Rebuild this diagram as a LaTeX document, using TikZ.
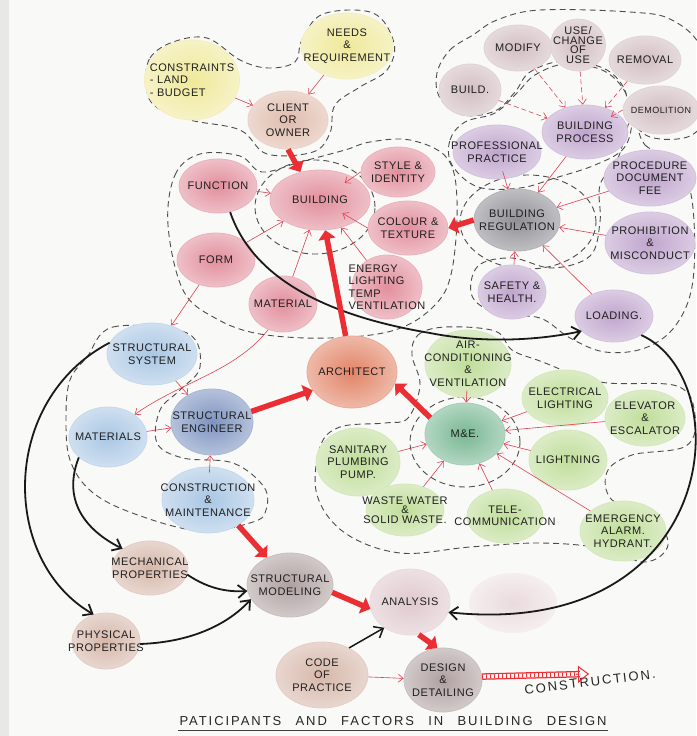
\documentclass[tikz,border=0pt]{standalone}
\usepackage{fontspec}
\setmainfont{Liberation Sans}[LetterSpace=5]
\newfontfamily\widefont{Liberation Sans}[LetterSpace=15]
\usetikzlibrary{arrows.meta,shapes.geometric,calc}
\pgfdeclarelayer{bg}
\pgfsetlayers{bg,main}
\definecolor{paper}{rgb}{0.975,0.975,0.968}
\definecolor{redc}{rgb}{0.88,0.25,0.32}
\definecolor{bigredc}{rgb}{0.92,0.18,0.20}
\definecolor{yellowc}{rgb}{0.93,0.90,0.55}
\definecolor{clientc}{rgb}{0.86,0.70,0.63}
\definecolor{pinkc}{rgb}{0.87,0.50,0.56}
\definecolor{procc}{rgb}{0.80,0.71,0.73}
\definecolor{purplec}{rgb}{0.72,0.60,0.78}
\definecolor{greyc}{rgb}{0.50,0.50,0.53}
\definecolor{greenc}{rgb}{0.72,0.85,0.55}
\definecolor{mnec}{rgb}{0.40,0.68,0.52}
\definecolor{orangec}{rgb}{0.87,0.45,0.32}
\definecolor{bluec}{rgb}{0.62,0.75,0.88}
\definecolor{dbluec}{rgb}{0.42,0.52,0.72}
\definecolor{tanc}{rgb}{0.82,0.68,0.62}
\definecolor{modc}{rgb}{0.65,0.58,0.58}
\definecolor{analc}{rgb}{0.86,0.76,0.78}
\newcommand{\lblfont}{\fontsize{11}{12.5}\selectfont}
\begin{document}
\begin{tikzpicture}[x=1pt,y=-1pt,
  ball/.style={ellipse, shade, inner color=#1!88!white, outer color=#1!50!white,
    draw=#1!60!white, line width=0.8pt, inner xsep=-30pt, inner ysep=-12pt,
    align=center, font=\lblfont, text=black!88},
  sz/.style 2 args={minimum width=#1pt, minimum height=#2pt},
  zone/.style={draw=black!70, line width=0.9pt, dash pattern=on 6pt off 4pt},
  rarrow/.style={draw=redc, line width=0.6pt, -{Straight Barb[length=5pt,width=8pt]}},
  rdash/.style={rarrow, dash pattern=on 5pt off 3pt},
  barrow/.style={draw=black!90, line width=1.8pt, -{Straight Barb[length=8pt,width=13pt]}},
  bigred/.style={draw=bigredc, line width=5.5pt, -{Triangle[length=9pt,width=17pt]}},
]
\useasboundingbox (0,0) rectangle (696,736);

% ---------- nodes ----------
\node[ball=yellowc, sz={95}{80}, align=left] (cons) at (192,80) {CONSTRAINTS\\- LAND\\- BUDGET};
\node[ball=yellowc, sz={92}{66}] (needs) at (347,46) {NEEDS\\\&\\REQUIREMENT};
\node[ball=clientc, sz={80}{58}] (client) at (288,120) {CLIENT\\OR\\OWNER};

\node[ball=pinkc, sz={100}{60}] (bldg) at (320,200) {BUILDING};
\node[ball=pinkc, sz={78}{54}] (func) at (218,186) {FUNCTION};
\node[ball=pinkc, sz={78}{54}] (form) at (216,260) {FORM};
\node[ball=pinkc, sz={68}{56}] (mat) at (283,304) {MATERIAL};
\node[ball=pinkc, sz={74}{50}] (style) at (398,172) {STYLE \&\\IDENTITY};
\node[ball=pinkc, sz={80}{54}] (colour) at (408,228) {COLOUR \&\\TEXTURE};
\node[ball=pinkc, sz={70}{64}, align=left] (energy) at (387,287) {ENERGY\\LIGHTING\\TEMP\\VENTILATION};

\node[ball=procc, sz={68}{46}] (modify) at (518,48) {MODIFY};
\node[ball=procc, sz={55}{52}] (use) at (578,45) {USE/\\[-3pt]CHANGE\\[-3pt]OF\\[-3pt]USE};
\node[ball=procc, sz={72}{48}] (removal) at (645,60) {REMOVAL};
\node[ball=procc, sz={62}{52}] (build) at (470,90) {BUILD.};
\node[ball=procc, sz={76}{48}, font=\fontsize{9}{11}\selectfont] (demol) at (661,110) {DEMOLITION};
\node[ball=purplec, sz={86}{54}] (bproc) at (585,132) {BUILDING\\PROCESS};
\node[ball=purplec, sz={88}{54}] (prof) at (497,152) {PROFESSIONAL\\PRACTICE};
\node[ball=purplec, sz={92}{56}] (proc) at (650,178) {PROCEDURE\\DOCUMENT\\FEE};
\node[ball=greyc, sz={86}{62}] (reg) at (517,220) {BUILDING\\REGULATION};
\node[ball=purplec, sz={90}{62}] (prohib) at (650,243) {PROHIBITION\\\&\\MISCONDUCT};
\node[ball=purplec, sz={68}{54}] (safety) at (512,292) {SAFETY \&\\HEALTH.};
\node[ball=purplec, sz={78}{52}] (loading) at (614,316) {LOADING.};

\node[ball=orangec, sz={90}{72}] (arch) at (352,372) {ARCHITECT};
\node[ball=greenc, sz={86}{68}] (aircon) at (468,364) {AIR-\\CONDITIONING\\\&\\VENTILATION};
\node[ball=greenc, sz={86}{56}] (elec) at (565,398) {ELECTRICAL\\LIGHTING};
\node[ball=greenc, sz={80}{56}] (elev) at (645,418) {ELEVATOR\\\&\\ESCALATOR};
\node[ball=mnec, sz={80}{62}] (mne) at (465,434) {M\&E.};
\node[ball=greenc, sz={78}{60}] (lightn) at (568,460) {LIGHTNING};
\node[ball=greenc, sz={84}{68}] (sanit) at (358,462) {SANITARY\\PLUMBING\\PUMP.};
\node[ball=greenc, sz={78}{52}] (waste) at (405,510) {WASTE WATER\\[-3pt]\&\\[-3pt]SOLID WASTE.};
\node[ball=greenc, sz={76}{54}] (telecom) at (505,516) {TELE-\\COMMUNICATION};
\node[ball=greenc, sz={86}{60}] (emerg) at (623,531) {EMERGENCY\\ALARM.\\HYDRANT.};

\node[ball=bluec, sz={90}{62}] (ss) at (152,354) {STRUCTURAL\\SYSTEM};
\node[ball=bluec, sz={78}{60}] (mat2) at (108,437) {MATERIALS};
\node[ball=dbluec, sz={82}{66}] (se) at (212,422) {STRUCTURAL\\ENGINEER};
\node[ball=bluec, sz={92}{66}] (cons2) at (208,500) {CONSTRUCTION\\\&\\MAINTENANCE};
\node[ball=tanc, sz={76}{54}] (mech) at (150,568) {MECHANICAL\\PROPERTIES};
\node[ball=tanc, sz={68}{56}] (phys) at (106,641) {PHYSICAL\\PROPERTIES};
\node[ball=modc, sz={86}{64}] (smod) at (290,585) {STRUCTURAL\\MODELING};
\node[ball=analc, sz={80}{66}] (anal) at (410,602) {ANALYSIS};
\node[ball=tanc, sz={92}{66}] (code) at (322,675) {CODE\\OF\\PRACTICE};
\node[ball=modc, sz={78}{64}] (design) at (443,680) {DESIGN\\\&\\DETAILING};
\node[font=\widefont\fontsize{13}{15}\selectfont, rotate=7, text=black!85] (constr) at (590,682) {CONSTRUCTION.};
\node[font=\widefont\fontsize{13}{15}\selectfont, text=black!85, inner sep=1pt] (title) at (393,721) {\makebox[427pt][s]{PATICIPANTS AND FACTORS IN BUILDING DESIGN}};
\draw[black!75, line width=1.3pt] ($(title.south west)+(0,4)$) -- ($(title.south east)+(0,4)$);

% ---------- background: paper and dashed zones ----------
\begin{pgfonlayer}{bg}
\fill[paper] (0,0) rectangle (696,736);
\fill[black!9] (0,0) rectangle (9,736);
\shade[inner color=analc!60!white, outer color=analc!28!white] (513,603) ellipse [x radius=44pt, y radius=30pt];
\draw[zone] plot[smooth cycle, tension=0.6] coordinates {(146,85) (150,58) (173,42) (207,38) (240,60) (268,68) (295,62) (302,40) (323,14) (373,13) (394,43) (387,70) (360,87) (335,105) (330,133) (313,152) (267,154) (240,130) (190,120) (155,106)};
\draw[zone] plot[smooth cycle, tension=0.6] coordinates {(168,225) (175,175) (200,154) (240,156) (262,172) (300,162) (345,150) (370,142) (410,140) (447,158) (457,200) (452,270) (435,305) (395,330) (330,338) (260,334) (215,318) (183,290)};
\draw[zone] (315,207) ellipse [x radius=60pt, y radius=47pt];
\draw[zone] plot[smooth cycle, tension=0.6] coordinates {(437,73) (450,50) (473,35) (497,20) (540,10) (630,12) (672,20) (702,50) (706,110) (690,136) (650,137) (630,116) (624,88) (603,68) (563,61) (530,72) (515,92) (495,111) (463,115) (440,98)};
\draw[zone] plot[smooth cycle, tension=0.6] coordinates {(452,165) (450,140) (465,122) (495,113) (517,93) (535,75) (565,64) (602,70) (624,90) (632,118) (624,148) (595,165) (555,178) (520,188) (478,187)};
\draw[zone] (528,222) ellipse [x radius=68pt, y radius=47pt];
\draw[zone] plot[smooth cycle, tension=0.6] coordinates {(632,118) (645,145) (675,162) (692,200) (693,280) (676,325) (645,348) (605,352) (570,338) (540,318) (498,314) (472,296) (478,266) (512,258) (552,268) (590,256) (600,222) (600,185) (618,158)};
\draw[zone] plot[smooth cycle, tension=0.6] coordinates {(412,355) (418,335) (445,327) (495,331) (512,350) (540,361) (600,382) (677,386) (695,415) (686,446) (632,455) (607,472) (612,500) (652,515) (668,545) (645,562) (600,548) (540,543) (470,547) (400,553) (345,533) (317,495) (320,447) (340,427) (385,423) (408,418) (420,385)};
\draw[zone] (465,442) ellipse [x radius=55pt, y radius=45pt];
\draw[zone] plot[smooth cycle, tension=0.6] coordinates {(87,357) (113,327) (187,333) (200,367) (180,390) (160,410) (157,443) (183,458) (233,463) (264,487) (266,510) (253,522) (200,531) (135,514) (92,492) (70,460) (66,417) (70,380)};
\end{pgfonlayer}

% ---------- thin red arrows ----------
\draw[rarrow] (cons) -- (client);
\draw[rarrow] (needs) -- (client);
\draw[rarrow] (func) -- (bldg);
\draw[rarrow] (form) -- (bldg);
\draw[rarrow] (mat) -- (bldg);
\draw[rarrow] (energy) -- (bldg);
\draw[rarrow, shorten >=30pt] (style.west) -- (bldg.center);
\draw[rarrow, shorten >=26pt] (colour.west) -- (bldg.center);

\draw[rdash] (modify) -- (bproc);
\draw[rdash] (use) -- (bproc);
\draw[rdash] (removal) -- (bproc);
\draw[rdash] (build) -- (bproc);
\draw[rdash, shorten >=30pt] (demol.west) -- (bproc.center);

\draw[rarrow] (bproc) -- (reg);
\draw[rarrow, shorten <=-8pt] (prof) -- (reg);
\draw[rarrow] (proc) -- (reg);
\draw[rarrow] (prohib) -- (reg);
\draw[rarrow] (safety) -- (reg);
\draw[rarrow] (loading) -- (reg);

\draw[rarrow, shorten <=-8pt] (aircon) -- (mne);
\draw[rarrow] (elec) -- (mne);
\draw[rarrow] (elev) -- (mne);
\draw[rarrow] (lightn) -- (mne);
\draw[rarrow] (sanit) -- (mne);
\draw[rarrow] (waste) -- (mne);
\draw[rarrow] (telecom) -- (mne);
\draw[rarrow] (emerg) -- (mne);

\draw[rarrow] (form) -- (ss);
\draw[rarrow] (mat.240) .. controls (235,372) and (180,382) .. (mat2.40);
\draw[rarrow] (ss) -- (se);
\draw[rarrow] (mat2) -- (se);
\draw[rarrow, shorten <=-6pt] (cons2) -- (se);
\draw[rarrow] (code) -- (design);

% ---------- black arrows ----------
\draw[barrow] (func.-65) .. controls (255,285) and (340,318) .. (430,333) .. controls (475,342) and (530,342) .. (loading.205);
\draw[barrow] (loading.-35) .. controls (740,380) and (720,640) .. (anal.-15);
\draw[barrow] (ss.165) .. controls (0,400) and (0,560) .. (phys.115);
\draw[barrow] (mat2.215) .. controls (62,500) and (85,530) .. (mech.145);
\draw[barrow] (mech.-10) .. controls (210,590) and (230,592) .. (smod.188);
\draw[barrow] (phys.-5) .. controls (195,642) and (230,622) .. (smod.200);
\draw[barrow, line width=1.5pt] (code.45) -- (anal.225);

% ---------- big red arrows ----------
\draw[bigred] (client.south) -- (bldg.125);
\draw[bigred] (arch.100) -- (bldg.-80);
\draw[bigred] (reg.west) -- (colour.east);
\draw[bigred] (se.15) -- (arch.205);
\draw[bigred] (mne.155) -- (arch.-15);
\draw[bigred] (cons2.-40) -- (smod.130);
\draw[bigred] (smod.-10) -- (anal.190);
\draw[bigred] (anal.-75) -- (design.100);

% striped arrow to construction
\draw[bigredc, line width=6.5pt, shorten >=9pt] (design.5) -- (constr.north);
\draw[paper, line width=4pt, shorten >=9pt, shorten <=0.6pt] (design.5) -- (constr.north);
\draw[bigredc, line width=4pt, dash pattern=on 0.8pt off 3.2pt, shorten >=9pt] (design.5) -- (constr.north);
\draw[bigredc, line width=1pt, -{Triangle[open,length=11pt,width=17pt]}] ($(design.5)!0.88!(constr.north)$) -- (constr.north);
\end{tikzpicture}
\end{document}
